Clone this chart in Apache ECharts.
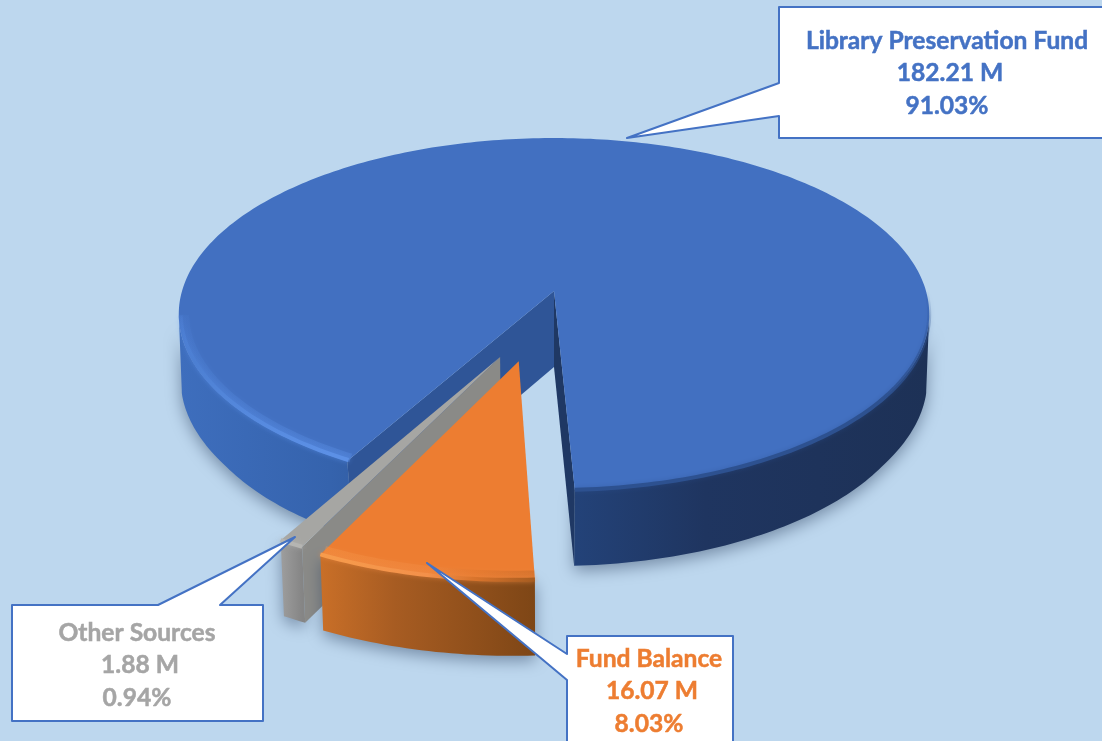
<!DOCTYPE html>
<html>
<head>
<meta charset="utf-8">
<style>
  html, body { margin: 0; padding: 0; background: #BDD7EE; }
  #chart { width: 1102px; height: 741px; }
</style>
<script src="https://cdn.jsdelivr.net/npm/echarts@6/dist/echarts.min.js"></script>
</head>
<body>
<div id="chart"></div>
<script>
// data
var categories = ['Library Preservation Fund', 'Fund Balance', 'Other Sources']
var fundValues = [182.21, 16.07, 1.88]
var percentLabels = ['91.03%', '8.03%', '0.94%']

// pie layout (tilted disc seen in perspective)
var apexX = 554
var apexY = 291
var radiusX = 372
var radiusY = 173
var perspective = 0.131
var thickness = 76
var startAngle = 209.5
var drawOrder = [0, 2, 1]
var sliceOffsets = [[0, 0], [-0.09, 0.385], [-0.138, 0.363]]
var sliceRadius = [1, 0.985, 0.975]

// slice styles
var topColors = ['#4270C1', '#ED7D31', '#A6A6A3']
var textColors = ['#4472C4', '#ED7D31', '#A5A5A5']
var wallStartColors = ['#2F5597', null, '#8A8A87']
var wallEndColors = ['#1F3864', null, null]
var sideStops = [
  [[0, '#3E6EBD'], [0.2, '#3563AD'], [0.53, '#234278'], [0.7, '#1F3560'], [1, '#1D3156']],
  [[0, '#C96F28'], [0.35, '#A75C22'], [1, '#7E4616']],
  [[0, '#9E9E9E'], [1, '#858585']]
]

// callouts
var boxes = [
  { left: 779, top: 7, right: 1112, bottom: 138, side: 'left', from: 83, to: 116, tip: [627, 138], textX: 947, textY: 41 },
  { left: 567, top: 636, right: 733, bottom: 760, side: 'left', from: 654, to: 680, tip: [427, 563], textX: 649, textY: 659 },
  { left: 12, top: 605, right: 263, bottom: 721, side: 'top', from: 158, to: 220, tip: [295, 537], textX: 137, textY: 633 }
]

var total = fundValues.reduce(function (s, v) { return s + v }, 0)
var sliceAngles = []
fundValues.reduce(function (a, v) {
  var span = v / total * 360
  sliceAngles.push([a, a + span])
  return a + span
}, startAngle)

function project(u, v) {
  var d = 1 - perspective * v
  return [apexX + radiusX * u / d, apexY + radiusY * v / d]
}

function rimPoint(i, angle, r) {
  var rad = angle * Math.PI / 180
  var off = sliceOffsets[i]
  return project(off[0] + r * Math.sin(rad), off[1] - r * Math.cos(rad))
}

function rimArc(i, a0, a1, r) {
  var pts = []
  var steps = Math.max(2, Math.ceil(Math.abs(a1 - a0)))
  for (var k = 0; k <= steps; k++) {
    pts.push(rimPoint(i, a0 + (a1 - a0) * k / steps, r))
  }
  return pts
}

// the lower edge of the slab, vertical lines lean inwards as they come forward
function lower(p, i) {
  var shrink = i === 0 ? Math.min(0.03, Math.max(0.008, 0.0003 * (p[1] - apexY))) : 0.012
  return [apexX + (p[0] - apexX) * (1 - shrink), p[1] + thickness]
}

function polygon(points, fill, extra) {
  return { type: 'polygon', silent: true, shape: { points: points }, style: Object.assign({ fill: fill }, extra || {}) }
}

function glowLine(points, stroke, width, blurColor, opacity) {
  return {
    type: 'polyline',
    silent: true,
    shape: { points: points },
    style: { fill: null, stroke: stroke, lineWidth: width, shadowBlur: 5, shadowColor: blurColor, opacity: opacity || 1 }
  }
}

function gradient(x, y, x2, y2, stops) {
  return {
    type: 'linear', x: x, y: y, x2: x2, y2: y2, global: true,
    colorStops: stops.map(function (s) { return { offset: s[0], color: s[1] } })
  }
}

function sideGradient(i, a0, a1) {
  if (i === 0) return gradient(180, 0, 930, 0, sideStops[0])
  var p0 = rimPoint(i, a0, sliceRadius[i])
  var p1 = rimPoint(i, a1, sliceRadius[i])
  return gradient(Math.min(p0[0], p1[0]), 0, Math.max(p0[0], p1[0]), 0, sideStops[i])
}

function renderSlice(params, api) {
  var i = api.value(0)
  var a0 = sliceAngles[i][0]
  var a1 = sliceAngles[i][1]
  var r = sliceRadius[i]
  var children = []
  var apex = project(sliceOffsets[i][0], sliceOffsets[i][1])
  var low = function (p) { return lower(p, i) }

  // outer wall, only the part that faces the viewer
  ;[0, 360].forEach(function (turn) {
    var lo = Math.max(a0, 97.5 + turn)
    var hi = Math.min(a1, 262.5 + turn)
    if (lo >= hi) return
    var top = rimArc(i, lo, hi, r)
    children.push(polygon(top.concat(top.map(low).reverse()), sideGradient(i, a0, a1), {
      shadowBlur: 16,
      shadowOffsetY: 5,
      shadowColor: 'rgba(45,65,95,0.5)'
    }))
  })

  // cut walls
  var wall = function (angle, color) {
    var p = rimPoint(i, angle, r)
    return polygon([apex, p, low(p), low(apex)], color)
  }
  if (wallStartColors[i]) children.push(wall(a0, wallStartColors[i]))
  if (wallEndColors[i]) children.push(wall(a1, wallEndColors[i]))

  // top face
  children.push(polygon([apex].concat(rimArc(i, a0, a1, r)), topColors[i]))

  // soft bevel along the rim
  if (i === 0) {
    var lit = gradient(0, 300, 0, 455, [[0, 'rgba(84,136,224,0)'], [0.4, '#4C7FD2'], [1, '#5C90E6']])
    children.push(glowLine(rimArc(0, a0, 262, 0.985), lit, 9, 'rgba(84,136,224,0.5)', 0.35))
    children.push(glowLine(rimArc(0, a0, 262, 0.995), lit, 4, 'rgba(84,136,224,0.6)'))
    children.push(glowLine(rimArc(0, 440, a1, 1),
      gradient(0, 290, 0, 400, [[0, 'rgba(44,80,145,0)'], [1, '#2D5190']]), 4, 'rgba(44,80,145,0.4)'))
  } else if (i === 1) {
    var left = rimPoint(1, a1, r)[0]
    var right = rimPoint(1, a0, r)[0]
    var warm = gradient(left, 0, right, 0, [[0, '#F79C4C'], [0.5, '#F3904A'], [0.72, '#D9742C'], [1, '#A65C20']])
    children.push(glowLine(rimArc(1, a0, a1, 0.965), warm, 8, 'rgba(240,140,70,0.5)', 0.3))
    children.push(glowLine(rimArc(1, a0, a1, 0.985), warm, 4, 'rgba(240,140,70,0.6)'))
  } else {
    children.push(glowLine(rimArc(2, a0, a1, r), '#B5B5B2', 4, 'rgba(180,180,178,0.6)'))
  }

  return { type: 'group', children: children }
}

function renderCallout(params, api) {
  var i = api.value(0)
  var b = boxes[i]
  var pts
  if (b.side === 'left') {
    pts = [[b.left, b.top], [b.right, b.top], [b.right, b.bottom], [b.left, b.bottom],
      [b.left, b.to], b.tip, [b.left, b.from]]
  } else {
    pts = [[b.left, b.top], [b.from, b.top], b.tip, [b.to, b.top], [b.right, b.top],
      [b.right, b.bottom], [b.left, b.bottom]]
  }
  var lines = [categories[i], fundValues[i].toFixed(2) + ' M', percentLabels[i]]
  var children = [polygon(pts, '#FFFFFF', { stroke: '#4472C4', lineWidth: 2, lineJoin: 'round' })]
  lines.forEach(function (text, k) {
    children.push({
      type: 'text',
      silent: true,
      style: {
        text: text,
        x: b.textX + (k === 1 ? 3 : 0),
        y: b.textY + k * 32.5,
        fill: textColors[i],
        stroke: textColors[i],
        lineWidth: 0.5,
        font: 'bold 24.6px Lato',
        align: 'center',
        verticalAlign: 'middle'
      }
    })
  })
  return { type: 'group', children: children }
}

var chart = echarts.init(document.getElementById('chart'))
chart.setOption({
  backgroundColor: '#BDD7EE',
  animation: false,
  series: [
    {
      type: 'custom',
      coordinateSystem: 'none',
      renderItem: renderSlice,
      data: drawOrder.map(function (i) { return [i] }),
      z: 1
    },
    {
      type: 'custom',
      coordinateSystem: 'none',
      renderItem: renderCallout,
      data: categories.map(function (c, i) { return [i] }),
      z: 2
    }
  ]
})
</script>
</body>
</html>
